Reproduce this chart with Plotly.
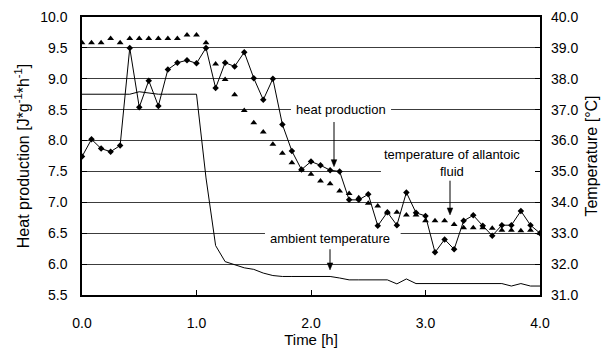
import plotly.graph_objects as go

# Time in hours (5-minute sampling)
time_h = [0.0, 0.083, 0.167, 0.25, 0.333, 0.417, 0.5, 0.583, 0.667, 0.75,
          0.833, 0.917, 1.0, 1.083, 1.167, 1.25, 1.333, 1.417, 1.5, 1.583,
          1.667, 1.75, 1.833, 1.917, 2.0, 2.083, 2.167, 2.25, 2.333, 2.417,
          2.5, 2.583, 2.667, 2.75, 2.833, 2.917, 3.0, 3.083, 3.167, 3.25,
          3.333, 3.417, 3.5, 3.583, 3.667, 3.75, 3.833, 3.917, 4.0]

# Heat production [J*g^-1*h^-1] (left axis)
heat_production = [7.74, 8.02, 7.87, 7.82, 7.92, 9.50, 8.54, 8.97, 8.56, 9.15,
                   9.26, 9.30, 9.25, 9.50, 8.85, 9.26, 9.20, 9.43, 9.01, 8.66,
                   9.00, 8.26, 7.83, 7.53, 7.66, 7.60, 7.52, 7.50, 7.04, 7.04,
                   7.13, 6.62, 6.84, 6.63, 7.16, 6.83, 6.78, 6.19, 6.40, 6.24,
                   6.70, 6.79, 6.62, 6.46, 6.63, 6.63, 6.86, 6.63, 6.50]

# Temperature of allantoic fluid [°C] (right axis)
allantoic_temp = [39.17, 39.17, 39.17, 39.30, 39.17, 39.30, 39.30, 39.30, 39.30, 39.30,
                  39.30, 39.42, 39.42, 39.17, 38.48, 37.98, 37.48, 36.97, 36.58, 36.28,
                  35.88, 35.59, 35.28, 35.05, 34.91, 34.69, 34.60, 34.37, 34.29, 34.15,
                  33.97, 33.88, 33.66, 33.68, 33.59, 33.59, 33.40, 33.40, 33.40, 33.28,
                  33.18, 33.18, 33.18, 33.16, 33.10, 33.10, 33.08, 33.10, 33.00]

# Ambient temperature [°C] (right axis)
ambient_temp = [37.50, 37.50, 37.50, 37.50, 37.50, 37.50, 37.58, 37.55, 37.50, 37.50,
                37.50, 37.50, 37.50, 34.79, 32.60, 32.08, 31.97, 31.88, 31.83, 31.71,
                31.63, 31.60, 31.60, 31.60, 31.60, 31.60, 31.60, 31.55, 31.49, 31.49,
                31.49, 31.49, 31.49, 31.36, 31.52, 31.37, 31.37, 31.37, 31.37, 31.37,
                31.37, 31.37, 31.37, 31.37, 31.37, 31.29, 31.37, 31.29, 31.29]

x_ticks = [0, 1, 2, 3, 4]

FONT = "Liberation Sans, Arial, sans-serif"

fig = go.Figure()

fig.add_trace(go.Scatter(
    x=time_h, y=ambient_temp, yaxis="y2", mode="lines",
    line=dict(color="black", width=1), name="ambient temperature"))

fig.add_trace(go.Scatter(
    x=time_h, y=heat_production, yaxis="y", mode="lines+markers",
    line=dict(color="black", width=1),
    marker=dict(symbol="diamond", size=5, color="black"),
    name="heat production"))

fig.add_trace(go.Scatter(
    x=time_h, y=allantoic_temp, yaxis="y2", mode="markers",
    marker=dict(symbol="triangle-up", size=6, color="black"),
    name="temperature of allantoic fluid"))

# white masks hiding gridline segments behind the labels
masks = [(1.825, 2.699, 8.4, 8.6), (2.611, 3.96, 7.42, 7.58), (1.598, 2.783, 6.42, 6.58)]
shapes = [dict(type="rect", xref="x", yref="y", x0=a, x1=b, y0=c, y1=d,
               fillcolor="white", line=dict(width=0), layer="between")
          for a, b, c, d in masks]

# arrows: (x, y_tail, y_head) in axis units; arrowhead drawn as small filled path
PX_X = 4.0 / 458.0   # hours per pixel
PX_Y = 4.5 / 278.0   # left-axis units per pixel
arrows = [(2.201, 8.30, 7.578), (3.214, 7.35, 6.796), (2.166, 6.24, 5.906)]
for ax_, y_tail, y_head in arrows:
    shapes.append(dict(type="line", xref="x", yref="y", x0=ax_, x1=ax_,
                       y0=y_tail, y1=y_head + 4 * PX_Y,
                       line=dict(color="black", width=1), layer="above"))
    hw, hh = 2.8 * PX_X, 7 * PX_Y
    shapes.append(dict(type="path", xref="x", yref="y",
                       path=f"M {ax_ - hw} {y_head + hh} L {ax_ + hw} {y_head + hh} L {ax_} {y_head} Z",
                       fillcolor="black", line=dict(color="black", width=0.5), layer="above"))

ann_font = dict(family=FONT, size=13, color="black")
annotations = [
    dict(x=2.262, y=8.5, xref="x", yref="y", text="heat production",
         showarrow=False, font=ann_font, xanchor="center", yanchor="middle"),
    dict(x=3.231, y=7.63, xref="x", yref="y", text="temperature of allantoic<br>fluid",
         showarrow=False, font=ann_font, xanchor="center", yanchor="middle"),
    dict(x=2.170, y=6.419, xref="x", yref="y", text="ambient temperature",
         showarrow=False, font=ann_font, xanchor="center", yanchor="middle"),
]

fig.update_layout(
    width=608, height=354,
    margin=dict(l=82, r=68, t=17, b=59),
    plot_bgcolor="white", paper_bgcolor="white",
    showlegend=False,
    font=dict(family=FONT, size=14, color="black"),
    shapes=shapes, annotations=annotations,
    xaxis=dict(range=[0, 4], tickvals=x_ticks, tickformat=".1f", automargin=False,
               ticks="inside", ticklen=5, tickcolor="black",
               showline=True, linecolor="black", linewidth=1.5, mirror=True,
               showgrid=False, zeroline=False, ticklabelstandoff=14,
               tickfont=dict(size=14),
               title=dict(text="Time [h]", font=dict(size=15), standoff=4)),
    yaxis=dict(range=[5.5, 10], dtick=0.5, tickformat=".1f", automargin=False,
               ticks="inside", ticklen=5, tickcolor="black",
               showline=True, linecolor="black", linewidth=1.5, mirror=True,
               showgrid=True, gridcolor="#3c3c3c", gridwidth=1,
               zeroline=False, ticklabelstandoff=10, tickfont=dict(size=14),
               title=dict(text="Heat production [J*g<sup>-1</sup>*h<sup>-1</sup>]",
                          font=dict(size=16), standoff=7)),
    yaxis2=dict(range=[31, 40], dtick=1, tickformat=".1f", overlaying="y", side="right",
                automargin=False,
                ticks="inside", ticklen=5, tickcolor="black",
                showline=False, showgrid=False, zeroline=False,
                ticklabelstandoff=10, tickfont=dict(size=14),
                title=dict(text="Temperature [°C]", font=dict(size=16), standoff=8)),
)

fig.write_html("out.html", config={"displayModeBar": False},
               post_script="document.body.style.margin='0';document.body.style.overflow='hidden';")
